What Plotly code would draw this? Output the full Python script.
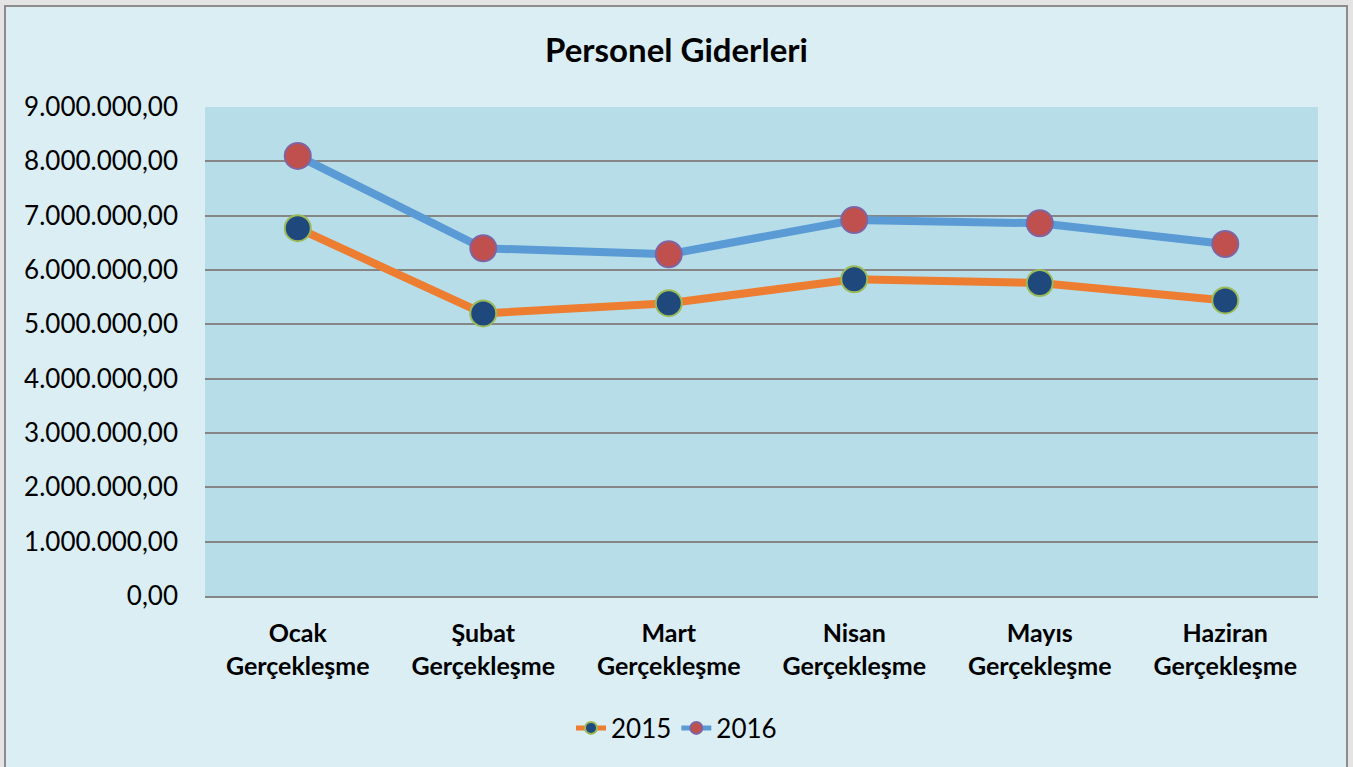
import plotly.graph_objects as go

categories = ["Ocak<br>Gerçekleşme", "Şubat<br>Gerçekleşme", "Mart<br>Gerçekleşme",
              "Nisan<br>Gerçekleşme", "Mayıs<br>Gerçekleşme", "Haziran<br>Gerçekleşme"]
values_2015 = [6770000, 5200000, 5390000, 5830000, 5760000, 5440000]
values_2016 = [8100000, 6400000, 6290000, 6920000, 6860000, 6480000]
series_names = ["2015", "2016"]
tick_values = [0, 1000000, 2000000, 3000000, 4000000, 5000000, 6000000, 7000000, 8000000, 9000000]

W, H = 1353, 767
L, R, T, B = 205, 35, 107, 171
PW, PH = W - L - R, H - T - B

def xp(px):
    return (px - L) / PW

def yp(py):
    return (H - B - py) / PH

fig = go.Figure()
fig.add_trace(go.Scatter(
    x=categories, y=values_2015, name=series_names[0], mode="lines+markers",
    line=dict(color="#ED7D31", width=8),
    marker=dict(size=26, color="#1F497D", line=dict(color="#9BBB59", width=2)),
))
fig.add_trace(go.Scatter(
    x=categories, y=values_2016, name=series_names[1], mode="lines+markers",
    line=dict(color="#5B9BD5", width=8),
    marker=dict(size=26, color="#C0504D", line=dict(color="#8064A2", width=2)),
))

gray = "#E4E4E4"
shapes = [
    dict(type="rect", xref="paper", yref="paper", x0=xp(-2), x1=xp(4), y0=yp(H + 5), y1=yp(-2),
         fillcolor=gray, line=dict(width=0), layer="above"),
    dict(type="rect", xref="paper", yref="paper", x0=xp(-2), x1=xp(W + 2), y0=yp(5), y1=yp(-2),
         fillcolor=gray, line=dict(width=0), layer="above"),
    dict(type="rect", xref="paper", yref="paper", x0=xp(1348), x1=xp(W + 2), y0=yp(H + 5), y1=yp(-2),
         fillcolor=gray, line=dict(width=0), layer="above"),
    dict(type="rect", xref="paper", yref="paper", x0=xp(5), x1=xp(1347), y0=yp(H + 10), y1=yp(6),
         fillcolor="rgba(0,0,0,0)", line=dict(color="#8C8C8C", width=2), layer="above"),
]

fig.update_layout(
    width=W, height=H,
    margin=dict(l=L, r=R, t=T, b=B, pad=0),
    paper_bgcolor="#DBEEF4",
    plot_bgcolor="#B7DEE8",
    font=dict(family="Lato, 'Liberation Sans', sans-serif", color="#000000", size=26),
    separators=",.",
    title=dict(text="<b>Personel Giderleri</b>", x=0.5, xref="container", xanchor="center",
               y=1 - 50 / H, yref="container", yanchor="middle",
               font=dict(size=33, family="Lato, sans-serif", color="#000000")),
    showlegend=True,
    legend=dict(orientation="h", xref="container", yref="container", x=0.5, xanchor="center",
                y=1 - 728 / H, yanchor="middle", font=dict(size=26), bgcolor="rgba(0,0,0,0)",
                itemsizing="constant"),
    xaxis=dict(range=[-0.5, 5.5], showgrid=False, showline=True, linecolor="#868686", linewidth=2,
               ticks="", tickfont=dict(size=25, family="Lato, sans-serif"), ticklabelstandoff=14,
               tickprefix="<b>", ticksuffix="</b>", fixedrange=True),
    yaxis=dict(range=[0, 9000000], tickvals=tick_values, tickformat=",.2f",
               showgrid=True, gridcolor="#868686", gridwidth=2,
               zeroline=False, showline=False, ticks="", ticklabelstandoff=26,
               tickfont=dict(size=26), fixedrange=True),
    shapes=shapes,
)

fig.write_html("out.html", config={"displayModeBar": False},
               post_script="document.body.style.margin='0px';document.body.style.overflow='hidden';")
